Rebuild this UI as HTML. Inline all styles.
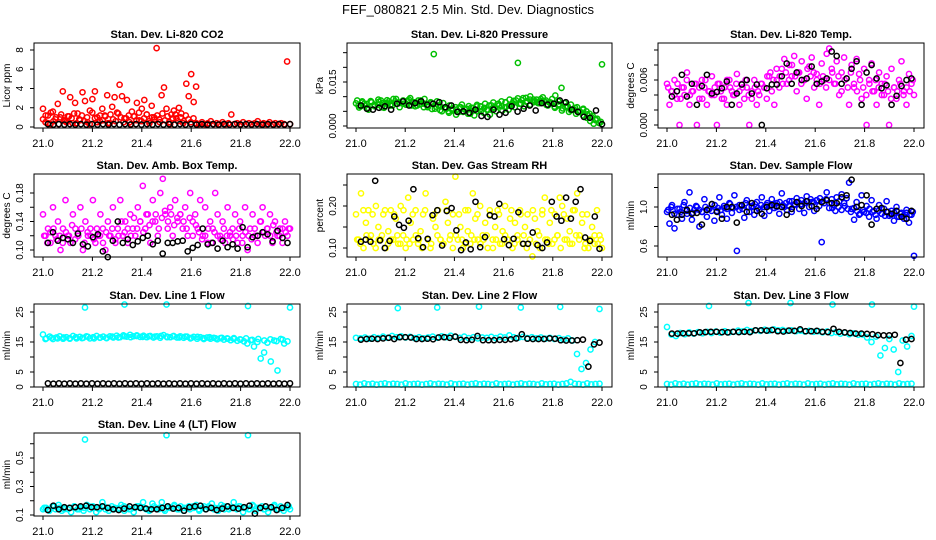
<!DOCTYPE html>
<html><head><meta charset="utf-8"><style>
html,body{margin:0;padding:0;background:#fff;}
svg{display:block;font-family:"Liberation Sans",sans-serif;}
</style></head><body>
<svg id="chart" width="936" height="540" viewBox="0 0 936 540" xmlns="http://www.w3.org/2000/svg">
<rect width="936" height="540" fill="#fff"/>
<text x="468" y="14" text-anchor="middle" font-size="13">FEF_080821  2.5 Min. Std. Dev. Diagnostics</text>
</svg>
<script>
const xTicks=[21.0,21.2,21.4,21.6,21.8,22.0];
const xTickLabels=["21.0","21.2","21.4","21.6","21.8","22.0"];
const outlierTimes=[21.17,21.33,21.5,21.67,21.83,22.0];

const co2Red=[1.9,0.5,1.2,0.3,1.6,0.8,2.4,1.0,3.7,0.6,1.1,3.1,0.4,2.5,1.4,0.7,3.6,2.7,0.5,1.7,2.9,3.7,1.0,0.6,1.9,1.2,3.3,0.4,2.1,3.1,1.5,4.4,3.2,0.9,2.8,0.5,1.6,1.1,2.5,0.7,1.9,2.8,1.3,0.6,2.2,1.0,8.2,0.8,3.3,4.1,1.9,0.5,1.3,1.7,0.9,2.0,1.4,0.6,4.5,3.2,5.5,2.6,4.2];
const co2RedLow=[0.8,1.2,0.4,1.5,0.6,1.0,0.3,1.3,0.7,0.5,1.1,0.9,1.4,0.4,0.8,1.2,0.6,1.0,0.3,1.5,0.9,0.5,1.2,0.7,1.1,0.4,1.3,0.8,0.6,1.4,1.0,0.5,0.9,1.2,0.3,1.1,0.7,1.5,0.6,0.9,1.3,0.4,1.0,0.8,1.2,0.5,1.4,0.7,1.1,0.3,0.9,1.3,0.6,1.0,0.4,1.2,0.8,0.5,0.9,0.4];
const co2RedTail=[0.4,0.3,0.5,0.3,0.4,0.6,0.3,0.4,0.3,0.5,0.3,0.4,1.3,0.3,0.4,0.3,0.5,0.3,0.4,0.3,0.4,0.6,0.3,0.4,0.3,0.5,0.3,0.4,0.3,0.4,0.3,6.8,0.3];
const co2Black=[0.3,0.25,0.3,0.25,0.3,0.25,0.3,0.25,0.3,0.25,0.3,0.25,0.3,0.25,0.3,0.25,0.3,0.25,0.3,0.25,0.3,0.25,0.3,0.25,0.3,0.25,0.3,0.25,0.3,0.25,0.3,0.25,0.3,0.25,0.3,0.25,0.3,0.25,0.3,0.25,0.3,0.25,0.3,0.25,0.3];

const presGreen=[0.0077,0.0063,0.0084,0.0070,0.0056,0.0081,0.0067,0.0073,0.0087,0.0062,0.0078,0.0070,0.0092,0.0076,0.0064,0.0084,0.0073,0.0090,0.0081,0.0067,0.0087,0.0076,0.0092,0.0070,0.0081,0.0245,0.0084,0.0067,0.0078,0.0059,0.0070,0.0053,0.0064,0.0048,0.0073,0.0056,0.0042,0.0062,0.0036,0.0050,0.0067,0.0045,0.0056,0.0039,0.0062,0.0050,0.0070,0.0053,0.0064,0.0056,0.0073,0.0064,0.0215,0.0076,0.0067,0.0084,0.0073,0.0081,0.0090,0.0078,0.0098,0.0087,0.0081,0.0092,0.0104,0.0084,0.0130,0.0078,0.0067,0.0073,0.0056,0.0064,0.0048,0.0059,0.0050,0.0042,0.0034,0.0022,0.0011,0.0210];
const presGreen2=[0.0087,0.0067,0.0076,0.0062,0.0081,0.0070,0.0090,0.0064,0.0078,0.0084,0.0070,0.0092,0.0078,0.0087,0.0073,0.0095,0.0081,0.0070,0.0087,0.0076,0.0064,0.0078,0.0059,0.0070,0.0050,0.0062,0.0045,0.0056,0.0039,0.0064,0.0048,0.0059,0.0042,0.0053,0.0067,0.0050,0.0062,0.0056,0.0070,0.0062,0.0076,0.0067,0.0081,0.0070,0.0078,0.0087,0.0076,0.0095,0.0084,0.0101,0.0090,0.0081,0.0092,0.0084,0.0070,0.0078,0.0062,0.0070,0.0053,0.0064,0.0048,0.0056,0.0042,0.0050,0.0036,0.0028,0.0017,0.0008,0.0025,0.0014];
const presGreen3=[0.0070,0.0080,0.0075,0.0085,0.0072,0.0082,0.0078,0.0088,0.0074,0.0084,0.0080,0.0076,0.0086,0.0070,0.0080,0.0074,0.0064,0.0070,0.0058,0.0066,0.0054,0.0062,0.0050,0.0060,0.0056,0.0064,0.0058,0.0068,0.0062,0.0072,0.0066,0.0076,0.0070,0.0080,0.0074,0.0084,0.0080,0.0090,0.0086,0.0094,0.0088,0.0096,0.0090,0.0084,0.0078,0.0086,0.0072,0.0080,0.0066,0.0074,0.0060,0.0068,0.0054,0.0062,0.0048,0.0056,0.0040,0.0030,0.0020,0.0010];
const presBlack=[0.0070,0.0059,0.0056,0.0062,0.0067,0.0056,0.0076,0.0084,0.0070,0.0078,0.0084,0.0073,0.0076,0.0081,0.0064,0.0070,0.0048,0.0050,0.0045,0.0056,0.0034,0.0031,0.0056,0.0039,0.0045,0.0067,0.0049,0.0059,0.0070,0.0053,0.0078,0.0073,0.0076,0.0087,0.0081,0.0056,0.0048,0.0031,0.0028,0.0053,0.0006];

const tempMag=[0.0055,0.0027,0.0045,0.0060,0.0035,0,0.0050,0.0040,0.0070,0.0027,0.0045,0.0055,0,0.0035,0.0060,0.0050,0.0027,0.0045,0.0065,0.0040,0,0.0055,0.0035,0.0050,0.0027,0.0060,0.0045,0.0040,0.0068,0.0027,0.0055,0.0035,0.0050,0,0.0045,0.0060,0.0027,0.0040,0.0055,0.0050,0.0035,0.0065,0.0045,0.0027,0.0060,0.0050,0.0075,0.0088,0.0055,0.0080,0.0065,0.0092,0.0045,0.0070,0.0085,0.0060,0.0035,0.0078,0.0090,0.0050,0.0068,0.0027,0.0082,0.0060,0.0095,0.0102,0.0075,0.0055,0.0085,0.0040,0.0070,0.0090,0.0062,0.0027,0.0080,0.0050,0.0088,0.0068,0.0035,0.0075,0,0.0060,0.0082,0.0045,0.0027,0.0070,0.0055,0.0040,0.0065,0,0.0075,0.0050,0.0035,0.0060,0.0085,0.0045,0.0027,0.0068,0.0055,0.0040];
const tempMag2=[0.0050,0.0045,0.0040,0.0055,0.0035,0.0050,0.0060,0.0040,0.0045,0.0055,0.0050,0.0035,0.0060,0.0045,0.0040,0.0050,0.0055,0.0045,0.0035,0.0060,0.0050,0.0040,0.0055,0.0045,0.0050,0.0060,0.0040,0.0035,0.0050,0.0045,0.0055,0.0050,0.0065,0.0070,0.0060,0.0075,0.0065,0.0055,0.0070,0.0060,0.0080,0.0065,0.0070,0.0055,0.0060,0.0075,0.0065,0.0070,0.0060,0.0055,0.0065,0.0050,0.0060,0.0070,0.0055,0.0065,0.0045,0.0060,0.0050,0.0070,0.0055,0.0045,0.0060,0.0050,0.0040,0.0055,0.0045,0.0060,0.0050,0.0040,0.0055,0.0045,0.0035,0.0050,0.0045,0.0055,0.0040,0.0050,0.0045,0.0060];
const tempBlack=[0.0038,0.0045,0.0067,0.0038,0.0055,0.0027,0.0052,0.0067,0.0042,0.0044,0.0049,0.0058,0.0027,0.0042,0.0054,0.0060,0.0042,0.0054,0,0.0049,0.0054,0.0054,0.0065,0.0082,0.0055,0.0070,0.0060,0.0062,0.0078,0.0055,0.0058,0.0062,0.0098,0.0092,0.0055,0.0062,0.0075,0.0085,0.0027,0.0070,0.0080,0.0062,0.0049,0.0053,0.0027,0.0039,0.0052,0.0060,0.0062];

const ambMag=[0.15,0.12,0.13,0.11,0.16,0.12,0.14,0.10,0.13,0.17,0.12,0.11,0.15,0.13,0.12,0.16,0.10,0.14,0.12,0.13,0.17,0.11,0.12,0.15,0.13,0.10,0.14,0.12,0.16,0.11,0.13,0.17,0.12,0.14,0.11,0.15,0.13,0.12,0.16,0.14,0.19,0.13,0.15,0.11,0.17,0.14,0.12,0.18,0.20,0.15,0.13,0.16,0.12,0.17,0.14,0.15,0.13,0.16,0.12,0.18,0.14,0.15,0.13,0.17,0.12,0.16,0.11,0.14,0.13,0.18,0.15,0.12,0.14,0.11,0.16,0.12,0.13,0.15,0.11,0.14,0.12,0.16,0.10,0.13,0.15,0.12,0.11,0.14,0.16,0.12,0.13,0.15,0.11,0.14,0.12,0.13,0.11,0.14,0.12,0.13];
const ambMag2=[0.12,0.11,0.125,0.13,0.115,0.12,0.11,0.125,0.12,0.135,0.115,0.12,0.13,0.11,0.125,0.12,0.115,0.13,0.12,0.11,0.125,0.12,0.13,0.115,0.12,0.14,0.125,0.13,0.12,0.145,0.13,0.14,0.125,0.15,0.135,0.14,0.15,0.13,0.145,0.155,0.14,0.15,0.135,0.145,0.15,0.14,0.13,0.145,0.12,0.135,0.125,0.115,0.12,0.13,0.11,0.125,0.12,0.115,0.13,0.12,0.125,0.115,0.12,0.13,0.11,0.125,0.12,0.115,0.13,0.12,0.14,0.125,0.13,0.12,0.135,0.125,0.12,0.13,0.125,0.13];
const ambBlack=[0.11,0.125,0.113,0.117,0.115,0.11,0.123,0.108,0.105,0.118,0.122,0.098,0.09,0.113,0.14,0.11,0.115,0.107,0.112,0.117,0.12,0.108,0.113,0.095,0.11,0.11,0.112,0.113,0.098,0.103,0.107,0.13,0.108,0.11,0.102,0.113,0.104,0.108,0.102,0.132,0.104,0.118,0.12,0.125,0.122,0.112,0.127,0.117,0.11];

const rhYel=[0.18,0.12,0.23,0.10,0.16,0.19,0.13,0.11,0.20,0.15,0.12,0.18,0.10,0.14,0.19,0.12,0.17,0.11,0.20,0.13,0.10,0.22,0.16,0.12,0.19,0.11,0.14,0.18,0.23,0.12,0.10,0.17,0.15,0.19,0.12,0.11,0.21,0.16,0.13,0.18,0.27,0.12,0.15,0.10,0.19,0.14,0.11,0.23,0.17,0.12,0.20,0.13,0.16,0.10,0.18,0.12,0.15,0.19,0.11,0.14,0.20,0.12,0.17,0.10,0.16,0.13,0.19,0.11,0.15,0.18,0.12,0.08,0.17,0.14,0.10,0.19,0.22,0.12,0.16,0.11,0.18,0.13,0.22,0.20,0.12,0.17,0.14,0.11,0.19,0.23,0.13,0.16,0.10,0.18,0.12,0.15,0.11,0.19,0.13,0.10];
const rhYel2=[0.12,0.11,0.19,0.13,0.12,0.18,0.10,0.12,0.13,0.19,0.11,0.12,0.18,0.13,0.11,0.19,0.12,0.11,0.18,0.13,0.12,0.10,0.19,0.12,0.11,0.18,0.13,0.12,0.11,0.19,0.12,0.10,0.13,0.18,0.12,0.11,0.19,0.13,0.12,0.18,0.11,0.12,0.13,0.19,0.10,0.12,0.18,0.11,0.13,0.12,0.19,0.11,0.12,0.18,0.13,0.10,0.12,0.19,0.11,0.13,0.18,0.12,0.11,0.19,0.12,0.13,0.10,0.18,0.12,0.11,0.19,0.13,0.12,0.18,0.11,0.10,0.12,0.13,0.11,0.12];
const rhBlack=[0.115,0.12,0.115,0.26,0.118,0.10,0.117,0.175,0.155,0.148,0.165,0.24,0.123,0.102,0.122,0.178,0.19,0.106,0.188,0.195,0.142,0.095,0.113,0.097,0.21,0.102,0.126,0.178,0.175,0.205,0.121,0.107,0.122,0.185,0.11,0.11,0.137,0.107,0.10,0.113,0.21,0.175,0.165,0.22,0.17,0.21,0.24,0.125,0.117,0.175,0.098];

const sfBlue=[0.95,0.83,1.02,0.78,0.92,0.98,0.88,1.05,0.93,1.15,0.87,0.97,1.00,0.80,0.95,1.08,0.90,0.98,1.03,0.86,0.96,1.10,0.92,0.99,0.88,1.04,0.94,1.12,0.55,0.97,1.01,0.89,1.07,0.95,1.00,0.92,1.05,0.97,1.10,0.91,1.02,0.96,1.08,0.99,1.04,0.93,1.14,1.00,0.97,1.06,0.95,1.02,1.09,0.98,1.03,0.94,1.11,1.00,1.05,0.96,1.07,1.01,0.64,1.04,1.15,0.99,1.08,1.02,1.10,1.06,1.13,1.04,1.09,1.25,0.98,0.87,1.05,0.92,1.12,0.95,1.01,0.90,1.07,0.96,0.88,1.02,0.93,0.98,1.06,0.91,0.96,0.86,1.00,0.90,0.94,0.88,0.97,0.84,0.92,0.50];
const sfBlue2=[0.97,1.00,0.93,0.98,0.95,1.02,0.96,0.99,0.94,1.01,0.97,0.95,1.00,0.98,0.96,1.02,0.99,0.97,1.01,0.98,1.03,0.99,1.00,1.02,0.98,1.04,1.00,1.01,1.03,0.99,1.02,1.00,1.04,1.01,1.03,1.00,1.05,1.02,1.04,1.01,1.06,1.03,1.05,1.07,1.04,1.06,1.08,1.05,1.07,1.09,1.06,1.08,1.04,0.99,0.96,1.00,0.97,1.01,0.98,0.95,0.99,0.96,0.93,0.97,0.94,0.98,0.95,0.92,0.96,0.93,0.91,0.95,0.92,0.94,0.90,0.93,0.91,0.94,0.92,0.95];
const sfBlack=[0.92,0.87,0.92,0.97,0.93,0.94,0.82,0.97,1.03,0.95,0.88,1.00,1.00,0.84,1.02,0.95,1.04,0.96,0.93,1.00,1.02,1.01,1.00,0.92,0.98,1.05,1.01,1.06,1.01,0.98,1.05,1.07,1.04,1.04,1.10,1.12,1.28,1.00,1.02,1.12,0.82,0.98,0.99,0.95,0.93,0.96,0.90,0.88,0.96];

const l1Cyan=[17.5,16.2,16.8,16.0,16.5,16.9,16.1,16.6,16.3,17.0,16.2,16.7,16.4,16.9,16.2,16.6,17.0,16.4,16.8,16.3,16.9,16.5,17.1,16.6,17.2,16.8,17.4,16.9,17.2,16.7,17.1,16.6,17.0,16.5,16.9,16.4,17.3,16.8,16.6,17.0,16.5,16.9,16.4,16.8,16.2,16.7,16.1,16.6,16.0,16.5,16.1,16.4,15.9,16.3,15.8,16.2,15.6,16.0,15.4,15.8,15.2,14.5,15.6,13.5,15.0,9.5,11.5,14.8,8.5,15.5,5.5,16.0,14.5,15.2];
const l1Cyan2=[16.0,16.4,16.2,16.5,16.1,16.6,16.3,16.7,16.2,16.5,16.4,16.8,16.5,16.9,16.6,17.0,16.7,16.9,16.8,17.0,16.6,16.9,16.5,16.8,16.4,16.7,16.3,16.6,16.2,16.4,16.1,16.3,15.9,16.2,15.7,16.0,15.5,15.9,15.3,15.8];
const l1Black=[1.2,1.1,1.2,1.1,1.2,1.1,1.2,1.1,1.2,1.1,1.2,1.1,1.2,1.1,1.2,1.1,1.2,1.1,1.2,1.1,1.2,1.1,1.2,1.1,1.2,1.1,1.2,1.1,1.2,1.1,1.2,1.1,1.2,1.1,1.2,1.1,1.2,1.1,1.2,1.1,1.2,1.1,1.2,1.1,1.2];
const l1Out=[26.5,27.5,27.5,27,27,26.5];

const l2CyanLow=[1.0,0.8,1.2,0.9,1.1,0.8,1.0,1.2,0.9,1.1,1.0,0.8,1.2,0.9,1.0,1.1,0.8,1.0,1.2,0.9,1.1,1.0,0.8,1.2,0.9,1.0,1.1,0.8,1.0,1.2,0.9,1.1,1.0,0.8,1.2,0.9,1.0,1.1,0.8,1.0,1.2,0.9,1.1,1.0,0.8,1.2,0.9,1.0,1.1,0.8,1.0,1.2,1.7,1.1,1.0,0.8,1.2,0.9,1.0,1.1];
const l2CyanHigh=[16.4,16.2,16.5,16.1,16.6,16.3,16.8,16.4,17.0,16.6,16.9,16.5,16.7,16.3,16.6,16.2,16.5,16.8,16.4,16.9,16.6,17.1,16.7,16.4,16.8,16.3,16.6,16.2,16.5,16.4,16.7,16.3,16.8,16.5,17.2,16.6,16.4,16.7,16.3,16.6,16.2,16.5,16.1,16.4,16.0,16.3,15.8,16.2,15.5,11.0,6.0,8.0,12.5,15.0,26.0];
const l2Black=[15.8,16.0,16.1,16.0,16.2,16.4,16.0,16.6,16.6,16.5,16.0,16.0,16.1,15.9,16.5,16.6,16.4,16.8,15.7,15.6,15.7,17.0,15.6,15.6,15.6,15.7,15.7,15.9,16.2,17.6,16.1,16.0,16.0,16.0,16.2,16.1,15.6,15.5,15.5,15.6,15.8,6.8,14.2,14.8];
const l2Out=[26.3,26.5,26.8,26.5,26.7];

const l3CyanLow=[1.0,0.8,1.2,0.9,1.1,0.8,1.0,1.2,0.9,1.1,1.0,0.8,1.2,0.9,1.0,1.1,0.8,1.0,1.2,0.9,1.1,1.0,0.8,1.2,0.9,1.0,1.1,0.8,1.0,1.2,0.9,1.1,1.0,0.8,1.2,0.9,1.0,1.1,0.8,1.0,1.2,0.9,1.1,1.0,0.8,1.2,0.9,1.0,1.1,0.8,1.0,1.2,0.9,1.1,1.0,0.8,1.2,0.9,1.0,1.1];
const l3CyanHigh=[20.0,17.5,17.0,18.0,17.6,18.2,17.8,18.3,17.9,18.4,18.0,18.5,18.1,18.6,18.2,18.4,18.8,18.5,19.0,18.6,18.9,18.7,19.1,18.8,19.2,18.9,19.0,18.7,18.9,18.6,18.8,18.5,18.7,18.4,18.6,18.2,18.5,18.0,18.3,17.8,18.1,17.6,17.9,17.4,17.5,16.5,15.0,16.8,10.5,13.0,16.0,12.5,5.0,15.5,13.5,17.0];
const l3Black=[17.8,17.8,17.9,17.9,17.9,18.2,18.3,18.4,18.4,18.3,18.2,18.4,18.3,18.4,18.3,18.9,18.9,18.8,19.0,18.6,18.5,18.8,18.7,19.2,18.6,18.6,18.7,18.4,18.3,19.4,18.4,18.2,18.0,17.8,17.8,17.7,17.6,17.3,17.2,17.2,17.4,8.0,15.8,16.0];
const l3Out=[27.0,28.0,28.0,27.5,27.5,26.8];

const l4Cyan=[0.14,0.15,0.13,0.16,0.14,0.17,0.13,0.15,0.14,0.12,0.16,0.14,0.15,0.13,0.17,0.14,0.16,0.12,0.15,0.19,0.14,0.13,0.16,0.15,0.14,0.17,0.13,0.15,0.14,0.12,0.16,0.15,0.19,0.14,0.13,0.18,0.15,0.14,0.19,0.13,0.16,0.15,0.17,0.14,0.16,0.13,0.15,0.14,0.16,0.17,0.13,0.15,0.14,0.16,0.18,0.15,0.13,0.17,0.14,0.16,0.15,0.19,0.14,0.16,0.12,0.15,0.14,0.17,0.13,0.15,0.16,0.14,0.12,0.15,0.17,0.14,0.16,0.13,0.15,0.14];
const l4Cyan2=[0.15,0.14,0.16,0.15,0.14,0.15,0.16,0.14,0.15,0.16,0.15,0.14,0.16,0.15,0.14,0.15,0.16,0.14,0.15,0.16,0.15,0.14,0.16,0.15,0.14,0.15,0.16,0.14,0.15,0.16,0.15,0.14,0.16,0.15,0.14,0.15,0.16,0.14,0.15,0.16,0.15,0.14,0.16,0.15,0.14,0.15,0.16,0.14,0.15,0.16];
const l4Black=[0.135,0.165,0.14,0.155,0.15,0.155,0.16,0.165,0.155,0.155,0.16,0.15,0.14,0.135,0.145,0.16,0.155,0.15,0.145,0.14,0.14,0.15,0.16,0.145,0.15,0.13,0.155,0.16,0.165,0.14,0.15,0.135,0.145,0.16,0.15,0.145,0.155,0.165,0.11,0.15,0.16,0.155,0.135,0.15,0.17];
const l4Out=[0.63,0.66,0.66];

const svg=document.getElementById('chart');
const NS='http://www.w3.org/2000/svg';
function mk(tag,attrs,parent){const e=document.createElementNS(NS,tag);for(const k in attrs)e.setAttribute(k,attrs[k]);(parent||svg).appendChild(e);return e;}

const cols=[{L:34,R:300},{L:347,R:612},{L:658,R:924}];
const rows=[{T:43,B:128},{T:174,B:257},{T:304,B:387},{T:433,B:516}];

function seq(vals,x0,x1){return vals.map((v,i)=>({t:x0+(x1-x0)*i/Math.max(1,vals.length-1),v:v}));}
function pts(vals,times){return vals.map((v,i)=>({t:times[i],v:v}));}

const panels=[
 {name:'co2',title:'Stan. Dev. Li-820 CO2',ylab:'Licor ppm',c:0,r:0,a:[0,127],b:[8,50],ticks:[0,2,4,6,8],labels:['0','2','4','6','8'],
  series:[['red',seq(co2RedLow,21.0,21.62)],['red',seq(co2Red,21.0,21.62)],['red',seq(co2RedTail,21.62,22.0)],['#000',seq(co2Black,21.02,22.0)]]},
 {name:'pressure',title:'Stan. Dev. Li-820 Pressure',ylab:'kPa',c:1,r:0,a:[0,126],b:[0.015,82],ticks:[0,0.005,0.01,0.015,0.02,0.025],labels:['0.000','','','0.015','',''],
  series:[['#00c000',seq(presGreen,21.0,22.0)],['#00c000',seq(presGreen2,21.005,21.995)],['#00c000',seq(presGreen3,21.01,21.99)],['#000',seq(presBlack,21.02,22.0)]]},
 {name:'temp',title:'Stan. Dev. Li-820 Temp.',ylab:'degrees C',c:2,r:0,a:[0,125],b:[0.006,80],ticks:[0,0.002,0.004,0.006,0.008,0.010],labels:['0.000','','','0.006','',''],
  series:[['#ff00ff',seq(tempMag,21.0,22.0)],['#ff00ff',seq(tempMag2,21.005,21.995)],['#000',seq(tempBlack,21.02,21.99)]]},
 {name:'amb-temp',title:'Stan. Dev. Amb. Box Temp.',ylab:'degrees C',c:0,r:1,a:[0.10,250],b:[0.18,193],ticks:[0.10,0.12,0.14,0.16,0.18],labels:['0.10','','0.14','','0.18'],
  series:[['#ff00ff',seq(ambMag,21.0,22.0)],['#ff00ff',seq(ambMag2,21.005,21.995)],['#000',seq(ambBlack,21.02,21.99)]]},
 {name:'rh',title:'Stan. Dev. Gas Stream RH',ylab:'percent',c:1,r:1,a:[0.10,248],b:[0.20,206],ticks:[0.10,0.15,0.20,0.25],labels:['0.10','','0.20',''],
  series:[['#ffff00',seq(rhYel,21.0,22.0)],['#ffff00',seq(rhYel2,21.005,21.995)],['#000',seq(rhBlack,21.02,21.99)]]},
 {name:'sample-flow',title:'Stan. Dev. Sample Flow',ylab:'ml/min',c:2,r:1,a:[0.6,246],b:[1.0,207],ticks:[0.6,0.8,1.0,1.2],labels:['0.6','','1.0',''],
  series:[['#0000ff',seq(sfBlue,21.0,22.0)],['#0000ff',seq(sfBlue2,21.005,21.995)],['#000',seq(sfBlack,21.02,21.99)]]},
 {name:'line1-flow',title:'Stan. Dev. Line 1 Flow',ylab:'ml/min',c:0,r:2,a:[0,387],b:[25,312],ticks:[0,5,10,15,20,25],labels:['0','5','','15','','25'],
  series:[['#00ffff',seq(l1Cyan,21.0,21.99)],['#00ffff',seq(l1Cyan2,21.01,21.97)],['#00ffff',pts(l1Out,outlierTimes)],['#000',seq(l1Black,21.02,22.0)]]},
 {name:'line2-flow',title:'Stan. Dev. Line 2 Flow',ylab:'ml/min',c:1,r:2,a:[0,387],b:[25,312],ticks:[0,5,10,15,20,25],labels:['0','5','','15','','25'],
  series:[['#00ffff',seq(l2CyanLow,21.0,21.99)],['#00ffff',seq(l2CyanHigh,21.0,21.99)],['#00ffff',pts(l2Out,outlierTimes)],['#000',seq(l2Black,21.02,21.99)]]},
 {name:'line3-flow',title:'Stan. Dev. Line 3 Flow',ylab:'ml/min',c:2,r:2,a:[0,387],b:[25,312],ticks:[0,5,10,15,20,25],labels:['0','5','','15','','25'],
  series:[['#00ffff',seq(l3CyanLow,21.0,21.99)],['#00ffff',seq(l3CyanHigh,21.0,21.99)],['#00ffff',pts(l3Out,outlierTimes)],['#000',seq(l3Black,21.02,21.99)]]},
 {name:'line4-flow',title:'Stan. Dev. Line 4 (LT) Flow',ylab:'ml/min',c:0,r:3,a:[0.1,515],b:[0.5,458],ticks:[0.1,0.2,0.3,0.4,0.5,0.6],labels:['0.1','','0.3','','0.5',''],
  series:[['#00ffff',seq(l4Cyan,21.0,22.0)],['#00ffff',seq(l4Cyan2,21.005,21.995)],['#00ffff',pts(l4Out,[21.17,21.5,21.83])],['#000',seq(l4Black,21.02,21.99)]]}
];

panels.forEach(p=>{
  const {L,R}=cols[p.c],{T,B}=rows[p.r];
  const xs=t=>(L+9)+(t-21)*((R-10)-(L+9));
  const ys=v=>p.a[1]+(v-p.a[0])*(p.b[1]-p.a[1])/(p.b[0]-p.a[0]);
  const g=mk('g',{});
  
  
  const tt=mk('text',{x:(L+R)/2,y:T-5,'text-anchor':'middle','font-size':'11','font-weight':'bold'},g);
  tt.textContent=p.title;
  
  
  const pg=mk('g',{},g);
  
  
  p.series.forEach(s=>{
    s[1].forEach(d=>{
      const c=mk('circle',{cx:xs(d.t).toFixed(1),cy:ys(d.v).toFixed(1),r:2.6,fill:'none',stroke:s[0],'stroke-width':1.5},pg);
      
      
    });
  });
  const box=mk('rect',{x:L,y:T,width:R-L,height:B-T,fill:'none',stroke:'#000','stroke-width':1},g);
  
  
  const xa=mk('g',{},g);
  
  
  mk('line',{x1:xs(xTicks[0]),x2:xs(xTicks[xTicks.length-1]),y1:B,y2:B,stroke:'#000'},xa);
  xTicks.forEach((t,i)=>{
    mk('line',{x1:xs(t),x2:xs(t),y1:B,y2:B+4,stroke:'#000'},xa);
    const lb=mk('text',{x:xs(t),y:B+19,'text-anchor':'middle','font-size':'11'},xa);
    lb.textContent=xTickLabels[i];
    
    
  });
  const ya=mk('g',{},g);
  
  
  mk('line',{x1:L,x2:L,y1:ys(p.ticks[0]),y2:ys(p.ticks[p.ticks.length-1]),stroke:'#000'},ya);
  p.ticks.forEach((t,i)=>{
    const y=ys(t);
    mk('line',{x1:L-4,x2:L,y1:y,y2:y,stroke:'#000'},ya);
    if(p.labels[i]){
      const lb=mk('text',{x:L-11,y:y,'text-anchor':'middle','font-size':'10',transform:`rotate(-90 ${L-11} ${y})`},ya);
      lb.textContent=p.labels[i];
      
      
    }
  });
  const yl=mk('text',{x:L-24,y:(T+B)/2,'text-anchor':'middle','font-size':'10',transform:`rotate(-90 ${L-24} ${(T+B)/2})`},g);
  yl.textContent=p.ylab;
  
  
});
</script>
</body></html>
